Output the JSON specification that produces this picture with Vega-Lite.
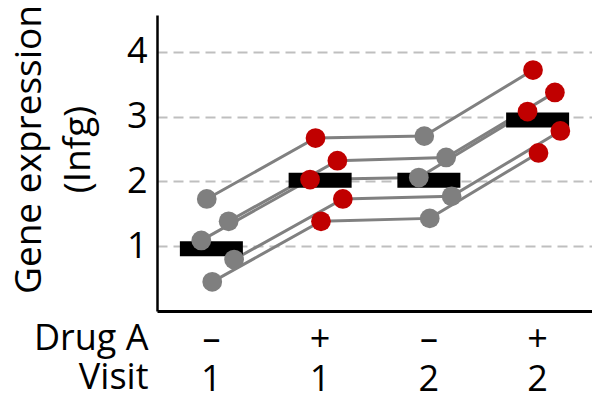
{
  "$schema": "https://vega.github.io/schema/vega-lite/v6.json",
  "width": 435,
  "height": 296,
  "autosize": "none",
  "padding": {"left": 157, "top": 15, "right": 0, "bottom": 89},
  "background": "white",
  "config": {
    "view": {"stroke": null},
    "font": "Open Sans",
    "axis": {"labelFont": "Open Sans", "titleFont": "Open Sans", "labelColor": "black", "titleColor": "black", "titleFontWeight": "normal"}
  },
  "datasets": {
    "pts": [
      {"subject": "A", "cond": "–|1", "drug": "–", "value": 1.73},
      {"subject": "A", "cond": "+|1", "drug": "+", "value": 2.67},
      {"subject": "A", "cond": "–|2", "drug": "–", "value": 2.70},
      {"subject": "A", "cond": "+|2", "drug": "+", "value": 3.72},
      {"subject": "B", "cond": "–|1", "drug": "–", "value": 1.385},
      {"subject": "B", "cond": "+|1", "drug": "+", "value": 2.32},
      {"subject": "B", "cond": "–|2", "drug": "–", "value": 2.37},
      {"subject": "B", "cond": "+|2", "drug": "+", "value": 3.375},
      {"subject": "C", "cond": "–|1", "drug": "–", "value": 1.09},
      {"subject": "C", "cond": "+|1", "drug": "+", "value": 2.03},
      {"subject": "C", "cond": "–|2", "drug": "–", "value": 2.06},
      {"subject": "C", "cond": "+|2", "drug": "+", "value": 3.08},
      {"subject": "D", "cond": "–|1", "drug": "–", "value": 0.795},
      {"subject": "D", "cond": "+|1", "drug": "+", "value": 1.73},
      {"subject": "D", "cond": "–|2", "drug": "–", "value": 1.77},
      {"subject": "D", "cond": "+|2", "drug": "+", "value": 2.78},
      {"subject": "E", "cond": "–|1", "drug": "–", "value": 0.45},
      {"subject": "E", "cond": "+|1", "drug": "+", "value": 1.385},
      {"subject": "E", "cond": "–|2", "drug": "–", "value": 1.43},
      {"subject": "E", "cond": "+|2", "drug": "+", "value": 2.44}
    ],
    "means": [
      {"cond": "–|1", "value": 0.96},
      {"cond": "+|1", "value": 2.02},
      {"cond": "–|2", "value": 2.02},
      {"cond": "+|2", "value": 2.95}
    ]
  },
  "encoding": {
    "x": {
      "field": "cond",
      "type": "nominal",
      "sort": ["–|1", "+|1", "–|2", "+|2"],
      "scale": {"type": "band", "domain": ["–|1", "+|1", "–|2", "+|2"], "paddingInner": 0, "paddingOuter": 0},
      "axis": {
        "orient": "bottom",
        "ticks": false,
        "grid": false,
        "labelAngle": 0,
        "labelExpr": "split(datum.label, '|')",
        "labelFontSize": 36,
        "labelLineHeight": 40,
        "labelPadding": 11,
        "labelBaseline": "top",
        "labelOverlap": false,
        "domainColor": "black",
        "domainWidth": 3,
        "title": ["Drug A", "Visit"],
        "titleFontSize": 36,
        "titleLineHeight": 39,
        "titleAlign": "right",
        "titleBaseline": "top",
        "titleX": -9,
        "titleY": 10
      }
    },
    "y": {
      "field": "value",
      "type": "quantitative",
      "scale": {"domain": [0, 4.57], "nice": false, "zero": false},
      "axis": {
        "values": [1, 2, 3, 4],
        "ticks": false,
        "labelFontSize": 36,
        "labelPadding": 10,
        "domainColor": "black",
        "domainWidth": 2.5,
        "grid": true,
        "gridColor": "#bfbfbf",
        "gridDash": [10, 6],
        "gridWidth": 2,
        "title": ["Gene expression", "(Infg)"],
        "titleFontSize": 37,
        "titleLineHeight": 49,
        "titleAngle": -90,
        "titleAlign": "center",
        "titleBaseline": "middle",
        "titleX": -128,
        "titleY": 134
      }
    }
  },
  "layer": [
    {
      "data": {"name": "pts"},
      "mark": {"type": "line", "color": "#808080", "strokeWidth": 3},
      "encoding": {
        "detail": {"field": "subject", "type": "nominal"},
        "xOffset": {
          "field": "subject",
          "type": "nominal",
          "scale": {"type": "point", "domain": ["C", "A", "E", "s1", "s2", "B", "D"], "padding": 0, "range": [44.3, 77.1]}
        }
      }
    },
    {
      "data": {"name": "means"},
      "mark": {"type": "tick", "color": "black", "size": 63, "thickness": 15, "opacity": 1, "orient": "horizontal"}
    },
    {
      "data": {"name": "pts"},
      "mark": {"type": "circle", "size": 390, "opacity": 1},
      "encoding": {
        "xOffset": {
          "field": "subject",
          "type": "nominal",
          "scale": {"type": "point", "domain": ["C", "A", "E", "s1", "s2", "B", "D"], "padding": 0, "range": [44.3, 77.1]}
        },
        "color": {
          "field": "drug",
          "type": "nominal",
          "scale": {"domain": ["–", "+"], "range": ["#7f7f7f", "#c00000"]},
          "legend": null
        }
      }
    }
  ]
}
